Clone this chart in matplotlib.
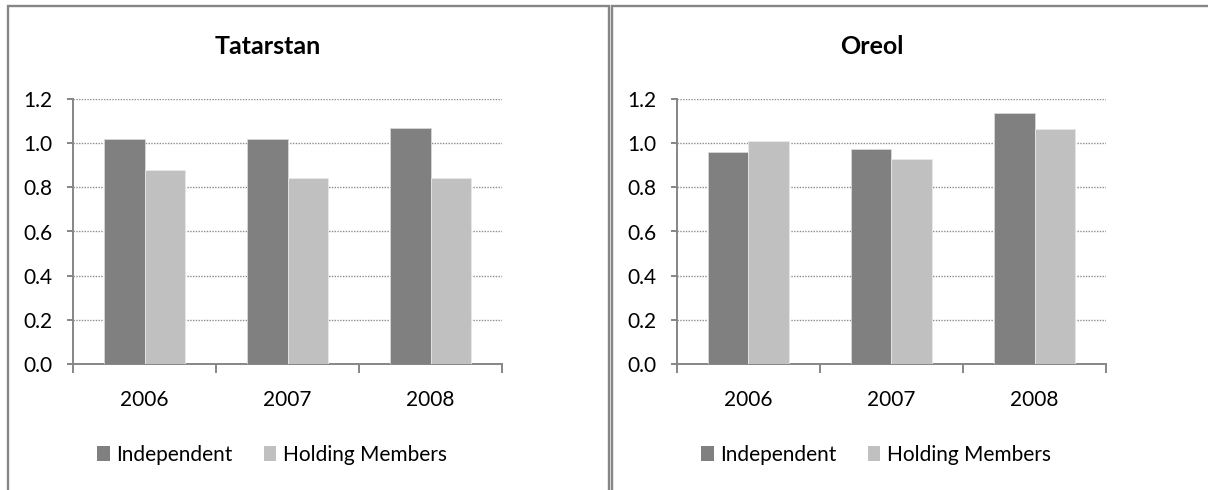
import numpy as np
import matplotlib
matplotlib.use('Agg')
import matplotlib.pyplot as plt
from matplotlib.patches import Rectangle, Patch

plt.rcParams['font.family'] = ['Lato', 'DejaVu Sans']

years = ['2006', '2007', '2008']
series_names = ['Independent', 'Holding Members']
tatarstan_independent = [1.02, 1.02, 1.07]
tatarstan_holding = [0.88, 0.84, 0.84]
oreol_independent = [0.96, 0.975, 1.135]
oreol_holding = [1.01, 0.93, 1.065]

DARK = '#808080'
LIGHT = '#c0c0c0'
LINE = '#868686'
FS = 15
W, H = 1208, 490


def px_box(x0, y0, x1, y1):
    # pixel box (top-left origin) -> figure fraction rect
    return [x0 / W, 1 - y1 / H, (x1 - x0) / W, (y1 - y0) / H]


def draw_panel(fig, offset, title, independent, holding):
    # outer frame of the chart object
    frame_left = 8 if offset == 0 else 612
    frame_right = 609 if offset == 0 else W + 10
    fig.patches.append(Rectangle((frame_left / W, -0.1),
                                 (frame_right - frame_left) / W,
                                 1.1 - 6.5 / H,
                                 transform=fig.transFigure, fill=False,
                                 edgecolor=LINE, lw=1.7, zorder=0))

    ax = fig.add_axes(px_box(offset + 73, 99, offset + 502, 364))
    x = np.arange(len(years))
    bw = 0.285
    ax.bar(x - bw / 2, independent, bw, color=DARK, edgecolor='#d8d8d8',
           lw=0.6, zorder=3)
    ax.bar(x + bw / 2, holding, bw, color=LIGHT, edgecolor='#e8e8e8',
           lw=0.6, zorder=3)

    ax.set_xlim(-0.5, len(years) - 0.5)
    ax.set_ylim(0, 1.2)
    ax.set_yticks(np.arange(0, 1.21, 0.2))
    ax.set_yticklabels(['{:.1f}'.format(v) for v in np.arange(0, 1.21, 0.2)],
                       fontsize=FS, color='black')
    for v in np.arange(0.2, 1.21, 0.2):
        ax.axhline(v, color='#8c8c8c', lw=1.0, ls=(0, (1, 1)), zorder=1)

    # category boundary ticks with labels centred between them
    ax.set_xticks(np.arange(-0.5, len(years)))
    ax.set_xticklabels([])
    ax.set_xticks(x, minor=True)
    ax.set_xticklabels(years, minor=True, fontsize=FS)
    ax.tick_params(axis='x', which='major', length=6.5, width=1.4,
                   color=LINE, direction='out')
    ax.tick_params(axis='x', which='minor', length=0, pad=19)
    ax.tick_params(axis='y', length=4.5, width=1.4, color=LINE, pad=10)

    for side in ['top', 'right']:
        ax.spines[side].set_visible(False)
    for side in ['left', 'bottom']:
        ax.spines[side].set_color(LINE)
        ax.spines[side].set_linewidth(1.4)

    fig.text((offset + 268) / W, 1 - 47 / H, title, fontsize=18,
             fontweight='bold', ha='center', va='center')

    handles = [Patch(facecolor=DARK, edgecolor='none'),
               Patch(facecolor=LIGHT, edgecolor='none')]
    fig.legend(handles, series_names, loc='center', ncol=2,
               bbox_to_anchor=((offset + 272) / W, 1 - 455 / H),
               frameon=False, fontsize=FS, handlelength=0.6,
               handleheight=0.75, handletextpad=0.3, columnspacing=1.5,
               borderpad=0)


fig = plt.figure(figsize=(W / 100, H / 100), dpi=100)
fig.patch.set_facecolor('white')
draw_panel(fig, 0, 'Tatarstan', tatarstan_independent, tatarstan_holding)
draw_panel(fig, 604, 'Oreol', oreol_independent, oreol_holding)
fig.savefig('out.png', dpi=100)
